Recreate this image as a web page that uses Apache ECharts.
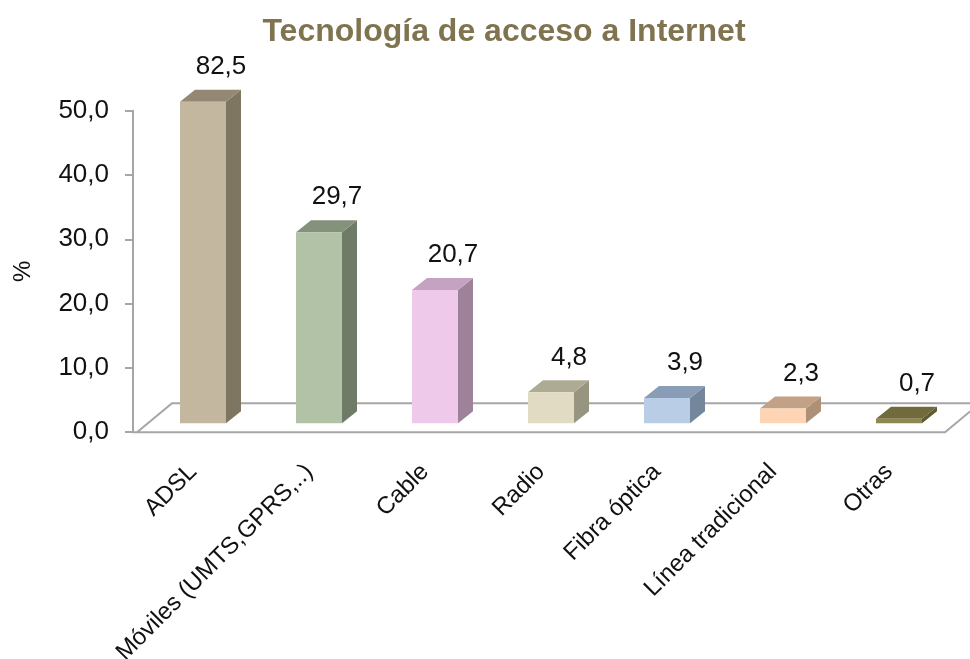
<!DOCTYPE html>
<html>
<head>
<meta charset="utf-8">
<title>Tecnología de acceso a Internet</title>
<style>
  html, body { margin: 0; padding: 0; background: #fff; }
  #chart { width: 970px; height: 659px; }
</style>
<script src="https://cdn.jsdelivr.net/npm/echarts@6/dist/echarts.min.js"></script>
</head>
<body>
<div id="chart"></div>
<script>
const categories = ['ADSL', 'Móviles (UMTS,GPRS,..)', 'Cable', 'Radio', 'Fibra óptica', 'Línea tradicional', 'Otras']
const values = [82.5, 29.7, 20.7, 4.8, 3.9, 2.3, 0.7]
const yTicks = { min: 0, max: 50, interval: 10 }

// front, side, top of each box
const frontColors = ['#c4b7a0', '#b1c2a7', '#eec9ea', '#e0dbc2', '#b9cde6', '#fdd5b4', '#8e8750']
const sideColors = ['#7f7661', '#6f7b67', '#9d8299', '#97947f', '#74869c', '#ae9076', '#5f5a2f']
const topColors = ['#928873', '#84927c', '#c5a2c0', '#aeab94', '#8a9db6', '#c2a186', '#716b3c']

const FONT = '"Liberation Sans", Arial, sans-serif'
const DEPTH_X = 15
const DEPTH_Y = 12
const BASE_LIFT = 9 // bars stand a little behind the front edge of the floor
const BAR_WIDTH = 46
const LINE = '#a6a6a6'

function fmt(v) {
  return v.toFixed(1).replace('.', ',')
}

function renderFloor(params, api) {
  const zero = api.coord([0, 0])
  const left = params.coordSys.x - 8
  const right = params.coordSys.x + params.coordSys.width - 12
  return {
    type: 'polyline',
    shape: {
      points: [
        [left - 4, zero[1]],
        [right, zero[1]],
        [right + 35, zero[1] - 29],
        [left + 35, zero[1] - 29],
        [left, zero[1]]
      ]
    },
    style: { fill: '#fff', stroke: LINE, lineWidth: 2 }
  }
}

function renderBox(params, api) {
  const i = params.dataIndex
  const v = api.value(1)
  const pos = api.coord([i, Math.min(v, yTicks.max)])
  const zero = api.coord([i, 0])
  const x0 = pos[0] - BAR_WIDTH / 2
  const x1 = pos[0] + BAR_WIDTH / 2
  const yTop = pos[1] - BASE_LIFT
  const yBot = zero[1] - BASE_LIFT
  const poly = (points, fill) => ({ type: 'polygon', shape: { points }, style: { fill } })
  return {
    type: 'group',
    children: [
      poly([[x1, yTop], [x1 + DEPTH_X, yTop - DEPTH_Y], [x1 + DEPTH_X, yBot - DEPTH_Y], [x1, yBot]], sideColors[i]),
      poly([[x0, yTop], [x0 + DEPTH_X, yTop - DEPTH_Y], [x1 + DEPTH_X, yTop - DEPTH_Y], [x1, yTop]], topColors[i]),
      { type: 'rect', shape: { x: x0, y: yTop, width: BAR_WIDTH, height: yBot - yTop }, style: { fill: frontColors[i] } },
      {
        type: 'text',
        style: {
          x: pos[0] + 18,
          y: yTop - 35,
          text: fmt(v),
          fill: '#111',
          font: '26px ' + FONT,
          align: 'center',
          verticalAlign: 'middle'
        }
      }
    ]
  }
}

const chart = echarts.init(document.getElementById('chart'))
chart.setOption({
  animation: false,
  backgroundColor: '#fff',
  title: {
    text: 'Tecnología de acceso a Internet',
    left: 499,
    top: 11,
    textAlign: 'center',
    textStyle: { color: '#80734f', fontFamily: FONT, fontSize: 32, fontWeight: 'bold' }
  },
  grid: { left: 145, top: 110.7, width: 812, height: 321.5, outerBoundsMode: 'none' },
  xAxis: {
    type: 'category',
    data: categories,
    axisLine: { show: false },
    axisTick: { show: false },
    axisLabel: {
      interval: 0,
      rotate: 45,
      margin: 26,
      padding: [0, 14, 0, 0],
      color: '#111',
      fontFamily: FONT,
      fontSize: 24
    }
  },
  yAxis: {
    type: 'value',
    min: yTicks.min,
    max: yTicks.max,
    interval: yTicks.interval,
    offset: 12,
    name: '%',
    nameLocation: 'middle',
    nameRotate: 90,
    nameGap: 98,
    nameTextStyle: { color: '#111', fontFamily: FONT, fontSize: 24 },
    splitLine: { show: false },
    axisLine: { show: true, lineStyle: { color: LINE, width: 2 } },
    axisTick: { show: true, length: 8, lineStyle: { color: LINE, width: 2 } },
    axisLabel: { margin: 24, padding: [3, 0, 0, 0], color: '#111', fontFamily: FONT, fontSize: 26, formatter: fmt }
  },
  series: [
    { type: 'custom', data: [[0, 0]], renderItem: renderFloor, z: 1, silent: true },
    {
      type: 'custom',
      data: values.map((v, i) => [i, v]),
      encode: { x: 0, y: 1 },
      renderItem: renderBox,
      z: 2,
      clip: false
    }
  ]
})
</script>
</body>
</html>
